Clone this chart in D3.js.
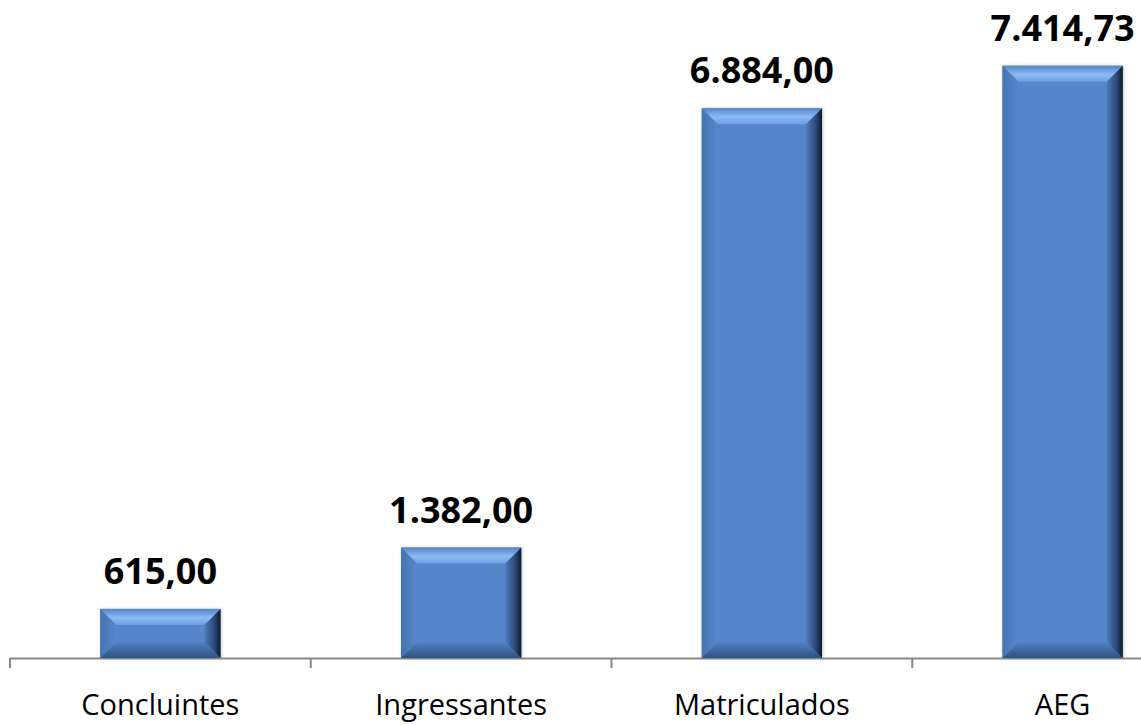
<!DOCTYPE html>
<html>
<head>
<meta charset="utf-8">
<script src="https://cdn.jsdelivr.net/npm/d3@7"></script>
<style>
  body { margin: 0; background: #fff; }
  svg { display: block; }
</style>
</head>
<body>
<div id="chart"></div>
<script>
// dados
var categorias = ['Concluintes', 'Ingressantes', 'Matriculados', 'AEG'];
var valores = [615, 1382, 6884, 7414.73];

var largura = 1141, altura = 725;
var baseY = 658, topoY = 19;
var bisel = 16;

var fmt = d3.formatLocale({decimal: ',', thousands: '.', grouping: [3], currency: ['R$', '']}).format(',.2f');

var svg = d3.select('#chart').append('svg')
    .attr('width', largura).attr('height', altura);

// escalas
var x = d3.scaleBand()
    .domain(categorias)
    .range([10, 1213])
    .paddingInner(0.6)
    .paddingOuter(0.3);

var y = d3.scaleLinear()
    .domain([0, 8000])
    .range([baseY, topoY]);

// gradientes do bisel
var defs = svg.append('defs');
function grad(id, x2, y2, stops) {
    var g = defs.append('linearGradient').attr('id', id)
        .attr('x1', 0).attr('y1', 0).attr('x2', x2).attr('y2', y2);
    stops.forEach(function(s){
        g.append('stop').attr('offset', s[0]).attr('stop-color', s[1]);
    });
}
grad('gTopo', 0, 1, [['0%', '#5584c6'], ['55%', '#8cbaf6'], ['100%', '#6f9fe0']]);
grad('gEsq', 1, 0, [['0%', '#4673b0'], ['100%', '#5788cc']]);
grad('gDir', 1, 0, [['0%', '#4d7bbb'], ['60%', '#2c4b7a'], ['100%', '#0e1827']]);
grad('gBase', 0, 1, [['0%', '#5282c3'], ['100%', '#2d5183']]);

var sombra = defs.append('filter').attr('id', 'sombra')
    .attr('x', '-10%').attr('y', '-10%').attr('width', '120%').attr('height', '120%');
sombra.append('feDropShadow').attr('dx', 1).attr('dy', 0).attr('stdDeviation', 1.5)
    .attr('flood-color', '#6b7f99').attr('flood-opacity', 0.45);

// eixo
svg.append('line')
    .attr('x1', 10).attr('x2', largura)
    .attr('y1', baseY + 0.5).attr('y2', baseY + 0.5)
    .attr('stroke', '#878787').attr('stroke-width', 2);

var meioGap = (x.step() - x.bandwidth()) / 2;
var marcas = categorias.map(function(c){ return x(c) - meioGap; });
svg.selectAll('line.marca')
    .data(marcas)
    .enter().append('line')
    .attr('class', 'marca')
    .attr('x1', function(d){ return d; }).attr('x2', function(d){ return d; })
    .attr('y1', baseY).attr('y2', baseY + 10)
    .attr('stroke', '#878787').attr('stroke-width', 2);

// barras com bisel
var barras = svg.selectAll('g.barra')
    .data(valores)
    .enter().append('g')
    .attr('class', 'barra');

barras.each(function(v, i){
    var g = d3.select(this);
    var x0 = x(categorias[i]), x1 = x0 + x.bandwidth();
    var y0 = y(v), y1 = baseY;
    var b = Math.min(bisel, (y1 - y0) / 3);
    var pts = function(a){ return a.map(function(p){ return p.join(','); }).join(' '); };

    g.append('rect')
        .attr('x', x0).attr('y', y0)
        .attr('width', x1 - x0).attr('height', y1 - y0)
        .attr('fill', '#5686c9')
        .attr('filter', 'url(#sombra)');
    g.append('polygon')
        .attr('points', pts([[x0, y0], [x1, y0], [x1 - b, y0 + b], [x0 + b, y0 + b]]))
        .attr('fill', 'url(#gTopo)');
    g.append('polygon')
        .attr('points', pts([[x0, y0], [x0 + b, y0 + b], [x0 + b, y1 - b], [x0, y1]]))
        .attr('fill', 'url(#gEsq)');
    g.append('polygon')
        .attr('points', pts([[x0, y1], [x0 + b, y1 - b], [x1 - b, y1 - b], [x1, y1]]))
        .attr('fill', 'url(#gBase)');
    g.append('polygon')
        .attr('points', pts([[x1 - b, y0 + b], [x1, y0], [x1, y1], [x1 - b, y1 - b]]))
        .attr('fill', 'url(#gDir)');
});

// rótulos de valor
svg.selectAll('text.valor')
    .data(valores)
    .enter().append('text')
    .attr('class', 'valor')
    .attr('x', function(d, i){ return x(categorias[i]) + x.bandwidth() / 2; })
    .attr('y', function(d){ return y(d) - 25; })
    .attr('text-anchor', 'middle')
    .attr('font-family', 'Open Sans')
    .attr('font-weight', 'bold')
    .attr('font-size', 36)
    .attr('fill', '#000')
    .text(function(d){ return fmt(d); });

// rótulos das categorias
svg.selectAll('text.cat')
    .data(categorias)
    .enter().append('text')
    .attr('class', 'cat')
    .attr('x', function(d){ return x(d) + x.bandwidth() / 2; })
    .attr('y', 715)
    .attr('text-anchor', 'middle')
    .attr('font-family', 'Open Sans')
    .attr('font-size', 29)
    .attr('fill', '#000')
    .text(function(d){ return d; });
</script>
</body>
</html>
